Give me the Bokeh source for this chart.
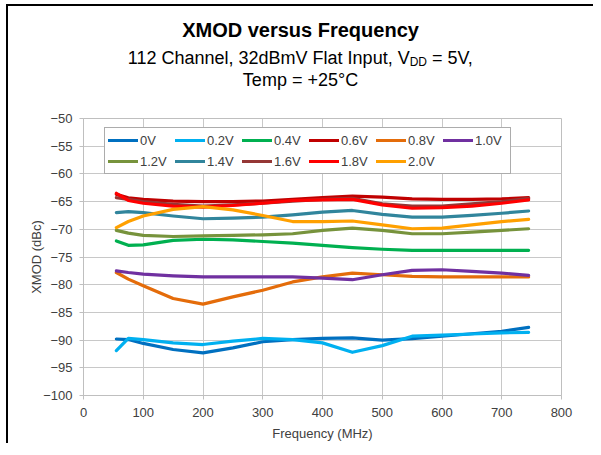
from bokeh.plotting import figure
from bokeh.models import Legend, LegendItem, Label, Range1d, FixedTicker, InlineStyleSheet
from bokeh.layouts import column
from bokeh.embed import file_html
from bokeh.resources import INLINE

freq = [55, 75, 100, 150, 200, 250, 300, 350, 400, 450, 500, 550, 600, 650, 700, 745]

v0_0 = [-89.8, -89.9, -90.6, -91.7, -92.3, -91.4, -90.3, -89.9, -89.7, -89.6, -90.0, -89.75, -89.3, -88.85, -88.4, -87.7]
v0_2 = [-91.9, -89.7, -89.9, -90.5, -90.8, -90.2, -89.7, -89.9, -90.5, -92.2, -91.0, -89.3, -89.1, -88.9, -88.7, -88.6]
v0_4 = [-72.1, -72.9, -72.8, -72.0, -71.8, -71.9, -72.2, -72.5, -72.9, -73.3, -73.6, -73.8, -73.8, -73.8, -73.8, -73.8]
v0_6 = [-63.7, -64.3, -64.6, -64.9, -65.0, -65.0, -64.9, -64.6, -64.3, -64.0, -64.2, -64.5, -64.6, -64.6, -64.5, -64.3]
v0_8 = [-77.8, -79.0, -80.2, -82.5, -83.5, -82.2, -81.0, -79.5, -78.6, -77.9, -78.2, -78.5, -78.6, -78.6, -78.6, -78.6]
v1_0 = [-77.5, -77.8, -78.1, -78.4, -78.6, -78.6, -78.6, -78.6, -78.8, -79.1, -78.2, -77.4, -77.3, -77.6, -77.9, -78.3]
v1_2 = [-70.2, -70.7, -71.1, -71.3, -71.2, -71.1, -71.0, -70.8, -70.2, -69.8, -70.2, -70.8, -70.8, -70.5, -70.2, -69.9]
v1_4 = [-67.0, -66.8, -67.0, -67.6, -68.1, -68.0, -67.8, -67.4, -66.9, -66.6, -67.3, -67.8, -67.8, -67.5, -67.1, -66.7]
v1_6 = [-64.3, -64.6, -65.0, -65.5, -65.8, -65.6, -65.3, -64.9, -64.6, -64.4, -65.4, -65.8, -65.8, -65.4, -65.0, -64.4]
v1_8 = [-63.5, -64.8, -65.3, -65.8, -66.0, -65.7, -65.3, -64.8, -64.7, -64.6, -65.6, -66.2, -66.1, -65.8, -65.3, -64.7]
v2_0 = [-69.7, -68.6, -67.6, -66.4, -65.9, -66.5, -67.5, -68.6, -68.6, -68.5, -69.2, -69.9, -69.8, -69.2, -68.6, -68.2]

series_names = ["0V", "0.2V", "0.4V", "0.6V", "0.8V", "1.0V", "1.2V", "1.4V", "1.6V", "1.8V", "2.0V"]
series_values = [v0_0, v0_2, v0_4, v0_6, v0_8, v1_0, v1_2, v1_4, v1_6, v1_8, v2_0]
series_colors = ["#0070C0", "#00B0F0", "#00B050", "#C00000", "#E46C0A", "#7030A0",
                 "#77933C", "#31859C", "#953735", "#FF0000", "#FFA000"]

x_ticks = [0, 100, 200, 300, 400, 500, 600, 700, 800]
y_ticks = [-100, -95, -90, -85, -80, -75, -70, -65, -60, -55, -50]

FONT = "Liberation Sans"
W = 585
H1 = 104                     # title strip height
BL, BR, BT, BB = 75, 32, 8, 48
FW = W - BL - BR
FH = 277
H2 = BT + FH + BB

# ---------------- title strip (frame aligned with the chart frame) ----------------
t = figure(width=W, height=H1, output_backend="svg", toolbar_location=None,
           x_range=Range1d(0, FW), y_range=Range1d(H1, 0),
           x_axis_type=None, y_axis_type=None,
           min_border_left=BL, min_border_right=BR, min_border_top=0, min_border_bottom=0)
t.grid.visible = False
t.outline_line_color = None
t.background_fill_color = "white"
t.border_fill_color = "white"

def tw(s, size, table):
    return sum(table.get(c, 556) for c in s) * size / 1000.0

arial = {' ': 278, '1': 556, '2': 556, '3': 556, '5': 556, 'C': 722, 'h': 556, 'a': 556,
         'n': 556, 'e': 556, 'l': 222, ',': 278, 'd': 556, 'B': 667, 'm': 833, 'V': 667,
         'F': 611, 't': 278, 'I': 278, 'p': 556, 'u': 556, '=': 584, 'D': 722}

cx = 217
ft, fs, sfs = 20, 18, 12
t.add_layout(Label(x=cx, y=23, text="XMOD versus Frequency",
                   text_font=FONT, text_font_size=f"{ft}px", text_font_style="bold",
                   text_align="center", text_baseline="alphabetic", text_color="black"))
partA = "112 Channel, 32dBmV Flat Input, V"
partS = "DD"
partB = "= 5V,"
gap = 5
wA, wS, wB = tw(partA, fs, arial), tw(partS, sfs, arial), tw(partB, fs, arial)
xs = cx - (wA + wS + gap + wB) / 2 + wA          # anchor where the subscript starts
t.add_layout(Label(x=xs, y=51, text=partA, text_font=FONT, text_font_size=f"{fs}px",
                   text_align="right", text_baseline="alphabetic", text_color="black"))
t.add_layout(Label(x=xs, y=55, text=partS, text_font=FONT, text_font_size=f"{sfs}px",
                   text_align="left", text_baseline="alphabetic", text_color="black"))
t.add_layout(Label(x=xs + wS + gap, y=51, text=partB, text_font=FONT, text_font_size=f"{fs}px",
                   text_align="left", text_baseline="alphabetic", text_color="black"))
t.add_layout(Label(x=cx, y=73, text="Temp = +25°C", text_font=FONT, text_font_size=f"{fs}px",
                   text_align="center", text_baseline="alphabetic", text_color="black"))

# ---------------- chart ----------------
p = figure(width=W, height=H2, output_backend="svg", toolbar_location=None,
           x_range=Range1d(0, 800), y_range=Range1d(-100, -50),
           min_border_left=BL, min_border_right=BR, min_border_top=BT, min_border_bottom=BB)
p.outline_line_color = "#BFBFBF"
p.background_fill_color = "white"
p.border_fill_color = "white"

p.xaxis.ticker = FixedTicker(ticks=x_ticks)
p.yaxis.ticker = FixedTicker(ticks=y_ticks)
for ax in (p.xaxis[0], p.yaxis[0]):
    ax.axis_line_color = "#BFBFBF"
    ax.major_tick_line_color = "#BFBFBF"
    ax.major_tick_out = 4
    ax.major_tick_in = 0
    ax.minor_tick_line_color = None
    ax.major_label_text_font = FONT
    ax.major_label_text_font_size = "13px"
    ax.major_label_text_color = "#404040"
    ax.axis_label_text_font = FONT
    ax.axis_label_text_font_size = "13px"
    ax.axis_label_text_font_style = "normal"
    ax.axis_label_text_color = "#404040"
p.xaxis.axis_label = "Frequency (MHz)"
p.yaxis.axis_label = "XMOD (dBc)"
p.xaxis.major_label_standoff = 8
p.xaxis.axis_label_standoff = 6
p.yaxis.major_label_standoff = 7
p.yaxis.axis_label_standoff = -4
p.xgrid.grid_line_color = "#C8C8C8"
p.ygrid.grid_line_color = "#C8C8C8"

items = {}
for name, vals, col in zip(series_names, series_values, series_colors):
    r = p.line(freq, vals, line_color=col, line_width=3.2, line_join="round", line_cap="round")
    items[name] = LegendItem(label=name, renderers=[r])

# legend fills column by column: order so that rows read like the reference
legend_order = ["0V", "1.2V", "0.2V", "1.4V", "0.4V", "1.6V", "0.6V", "1.8V", "0.8V", "2.0V", "1.0V"]
legend = Legend(items=[items[n] for n in legend_order], nrows=2, location=(21, 221), margin=0,
                padding=3, spacing=3, glyph_width=30, glyph_height=18, label_height=18,
                label_width=32, label_standoff=2, label_text_font=FONT, label_text_font_size="13px",
                label_text_color="#404040", border_line_color="#595959",
                border_line_width=1, background_fill_color="white", background_fill_alpha=1)
p.add_layout(legend, "center")

frame_css = InlineStyleSheet(css=":host { border-left: 2px solid black; border-top: 2px solid black; "
                                 "margin-left: 6px; margin-top: 4px; }")
layout = column(t, p, spacing=0, stylesheets=[frame_css])

open("out.html", "w").write(file_html(layout, INLINE))
